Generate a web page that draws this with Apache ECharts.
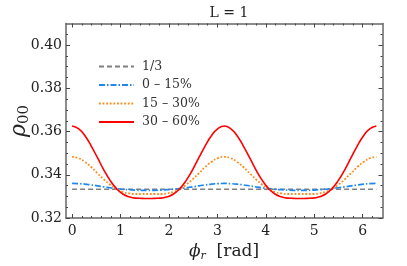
<!DOCTYPE html>
<html><head><meta charset="utf-8">
<script src="https://cdn.jsdelivr.net/npm/echarts@6/dist/echarts.min.js"></script>
<style>html,body{margin:0;padding:0;background:#fff}#c{width:407px;height:266px}</style>
</head><body><div id="c"></div>
<script>
const phi = [0,0.131,0.262,0.393,0.524,0.654,0.785,0.916,1.047,1.178,1.309,1.440,1.571,1.702,1.833,1.963,2.094,2.225,2.356,2.487,2.618,2.749,2.880,3.011,3.142,3.272,3.403,3.534,3.665,3.796,3.927,4.058,4.189,4.320,4.451,4.581,4.712,4.843,4.974,5.105,5.236,5.367,5.498,5.629,5.760,5.890,6.021,6.152,6.283];
const phiThird = [0, 6.283];
const third = [0.33333, 0.33333];
const c0_15 = [0.3360,0.3359,0.3357,0.3353,0.3349,0.3344,0.3340,0.3336,0.3333,0.3331,0.3329,0.3328,0.3328,0.3328,0.3329,0.3331,0.3333,0.3336,0.3340,0.3344,0.3349,0.3353,0.3357,0.3359,0.3360,0.3359,0.3357,0.3353,0.3349,0.3344,0.3340,0.3336,0.3333,0.3331,0.3329,0.3328,0.3328,0.3328,0.3329,0.3331,0.3333,0.3336,0.3340,0.3344,0.3349,0.3353,0.3357,0.3359,0.3360];
const c15_30 = [0.3483,0.3477,0.3460,0.3436,0.3407,0.3379,0.3354,0.3334,0.3321,0.3314,0.3311,0.3311,0.3311,0.3311,0.3311,0.3314,0.3321,0.3334,0.3354,0.3379,0.3407,0.3436,0.3460,0.3477,0.3483,0.3477,0.3460,0.3436,0.3407,0.3379,0.3354,0.3334,0.3321,0.3314,0.3311,0.3311,0.3311,0.3311,0.3311,0.3314,0.3321,0.3334,0.3354,0.3379,0.3407,0.3436,0.3460,0.3477,0.3483];
const c30_60 = [0.3626,0.3614,0.3582,0.3534,0.3479,0.3423,0.3374,0.3336,0.3311,0.3298,0.3292,0.3291,0.3290,0.3291,0.3292,0.3298,0.3311,0.3336,0.3374,0.3423,0.3479,0.3534,0.3582,0.3614,0.3626,0.3614,0.3582,0.3534,0.3479,0.3423,0.3374,0.3336,0.3311,0.3298,0.3292,0.3291,0.3290,0.3291,0.3292,0.3298,0.3311,0.3336,0.3374,0.3423,0.3479,0.3534,0.3582,0.3614,0.3626];
const names = ['1/3','0 – 15%','15 – 30%','30 – 60%'];
const xTicks = [0,1,2,3,4,5,6];
const yTicks = [0.32,0.34,0.36,0.38,0.40];

const font = 'DejaVu Serif';
const frame = '#666';
const tickCol = '#444';
const xMinor = [];
for (let v = -0.0; v <= 6.4; v += 0.2) { const r = Math.round(v*10)/10; if (Math.abs(r - Math.round(r)) > 0.01) xMinor.push(r); }
const yMinor = [];
for (let v = 0.32; v < 0.41; v += 0.005) { const r = Math.round(v*1000)/1000; if (!yTicks.some(t=>Math.abs(t-r)<1e-6)) yMinor.push(r); }
const pair = (xs,a) => xs.map((p,i)=>[p,a[i]]);

function xAx(pos, labels, ticks, len, showLine){
  return {type:'value',position:pos,min:-0.1257,max:6.409,
    axisLine:{show:showLine,onZero:false,lineStyle:{color:frame,width:1.5}},
    axisLabel:labels?{show:true,margin:6,fontFamily:font,fontSize:14,color:'#222',customValues:ticks,formatter:v=>String(v)}:{show:false},
    axisTick:{show:true,inside:true,length:len,customValues:ticks,lineStyle:{color:tickCol}},
    minorTick:{show:false},splitLine:{show:false}};
}
function yAx(pos, labels, ticks, len, showLine){
  return {type:'value',position:pos,min:0.32,max:0.41,
    axisLine:{show:showLine,onZero:false,lineStyle:{color:frame,width:1.5}},
    axisLabel:labels?{show:true,margin:4,fontFamily:font,fontSize:14,color:'#222',customValues:ticks,formatter:v=>v.toFixed(2)}:{show:false},
    axisTick:{show:true,inside:true,length:len,customValues:ticks,lineStyle:{color:tickCol}},
    minorTick:{show:false},splitLine:{show:false}};
}
const chart = echarts.init(document.getElementById('c'),null,{renderer:'canvas'});
chart.setOption({
  animation:false,
  backgroundColor:'#fff',
  grid:{left:66,right:24.5,top:23.5,bottom:48},
  title:{text:'L = 1',left:224,textAlign:'center',top:1,textStyle:{fontFamily:font,fontSize:14,fontWeight:'normal',color:'#222'}},
  legend:{orient:'vertical',left:93,top:55,itemWidth:35,itemHeight:10,itemGap:5.5,
    itemStyle:{opacity:0},
    textStyle:{fontFamily:font,fontSize:12.5,color:'#333',padding:[0,0,0,3]},
    data:names},
  xAxis:[
    xAx('bottom',true,xTicks,4,true),
    xAx('top',false,xTicks,4,true),
    xAx('bottom',false,xMinor,2,false),
    xAx('top',false,xMinor,2,false)
  ],
  yAxis:[
    yAx('left',true,yTicks,4,true),
    yAx('right',false,yTicks,4,true),
    yAx('left',false,yMinor,2,false),
    yAx('right',false,yMinor,2,false)
  ],
  graphic:[
    {type:'text',x:19,y:121,rotation:Math.PI/2,style:{
      text:'{a|ρ}{b|00}',align:'center',verticalAlign:'middle',
      rich:{a:{fontFamily:font,fontStyle:'italic',fontSize:22,fill:'#222'},
            b:{fontFamily:font,fontSize:15,fill:'#222',padding:[10,0,0,0]}}}},
    {type:'text',x:224,y:252,style:{
      text:'{a|ϕ}{b|r}{c|  [rad]}',align:'center',verticalAlign:'middle',
      rich:{a:{fontFamily:font,fontStyle:'italic',fontSize:17,fill:'#222'},
            b:{fontFamily:font,fontStyle:'italic',fontSize:11,fill:'#222',padding:[8,0,0,0]},
            c:{fontFamily:font,fontSize:17,fill:'#222'}}}}
  ],
  series:[
    {name:names[0],type:'line',symbol:'none',data:pair(phiThird,third),lineStyle:{color:'#808080',width:1.6,type:[5,3]},itemStyle:{color:'#808080'}},
    {name:names[1],type:'line',symbol:'none',smooth:true,data:pair(phi,c0_15),lineStyle:{color:'#1e88f0',width:1.7,type:[6,2,1.5,2]},itemStyle:{color:'#1e88f0'}},
    {name:names[2],type:'line',symbol:'none',smooth:true,data:pair(phi,c15_30),lineStyle:{color:'#ff8c1a',width:1.8,type:[1.8,1.8]},itemStyle:{color:'#ff8c1a'}},
    {name:names[3],type:'line',symbol:'none',smooth:true,data:pair(phi,c30_60),lineStyle:{color:'#ff0000',width:1.6},itemStyle:{color:'#ff0000'}}
  ]
});
</script></body></html>
